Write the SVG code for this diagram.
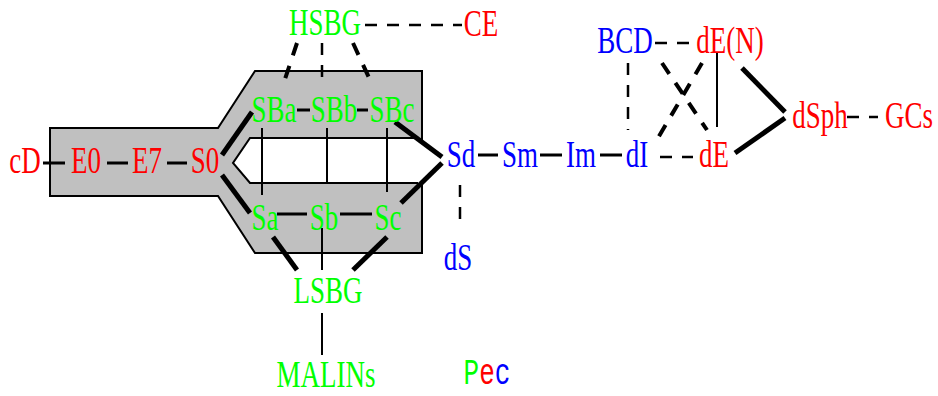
<svg xmlns="http://www.w3.org/2000/svg" width="938" height="396" viewBox="0 0 938 396">
<style>
text{font-family:"Liberation Serif","Times New Roman",serif;font-size:27px;text-anchor:middle}
.r{fill:#ff0000}.g{fill:#00ff00}.b{fill:#0000ff}
.mono{font-family:"Liberation Mono","Courier New",monospace;font-size:26px}
line,polyline{stroke:#000;fill:none}
.t{stroke-width:2}
.h{stroke-width:3}
.k{stroke-width:5}
.d{stroke-width:2.5;stroke-dasharray:12 10}
.dk{stroke-width:4;stroke-dasharray:13 11}
</style>
<rect width="938" height="396" fill="#fff"/>
<g id="body">
<polygon points="50,128 218,128 255,71 422,71 422,253 255,253 218,196 50,196" fill="#c0c0c0" stroke="#000" stroke-width="2"/>
<polygon points="250,138 417,138 442,157 442,163 417,184 250,183 233,163" fill="#fff"/>
<polyline class="t" points="417,138 250,138 233,163 250,183 418,183"/>
</g>
<g id="connectors">
<line class="h" x1="43" y1="163" x2="65" y2="163"/>
<line class="h" x1="107" y1="163" x2="128" y2="163"/>
<line class="h" x1="167" y1="163" x2="187" y2="163"/>
<line class="h" x1="297" y1="110" x2="310" y2="110"/>
<line class="h" x1="357" y1="110" x2="368" y2="110"/>
<line class="h" x1="277" y1="214" x2="307" y2="214"/>
<line class="h" x1="340" y1="214" x2="372" y2="214"/>
<line class="h" x1="478" y1="155" x2="498" y2="155"/>
<line class="h" x1="540" y1="155" x2="562" y2="155"/>
<line class="h" x1="600" y1="155" x2="622" y2="155"/>
<line class="t" x1="262" y1="128" x2="262" y2="195"/>
<line class="t" x1="327" y1="128" x2="327" y2="183"/>
<line class="t" x1="387" y1="128" x2="387" y2="192"/>
<line class="t" x1="322" y1="228" x2="322" y2="270"/>
<line class="t" x1="322" y1="313" x2="322" y2="355"/>
<line class="t" x1="717" y1="52" x2="717" y2="127"/>
<line class="k" x1="222" y1="155" x2="252" y2="112"/>
<line class="k" x1="222" y1="175" x2="250" y2="213"/>
<line class="k" x1="395" y1="122" x2="442" y2="157"/>
<line class="k" x1="401" y1="203" x2="442" y2="163"/>
<line class="k" x1="273" y1="237" x2="297" y2="270"/>
<line class="k" x1="387" y1="237" x2="353" y2="270"/>
<line class="k" x1="742" y1="68" x2="785" y2="112"/>
<line class="k" x1="735" y1="153" x2="785" y2="118"/>
<line class="d" x1="365" y1="25" x2="462" y2="25"/>
<line class="dk" x1="297" y1="43" x2="284" y2="82"/>
<line class="d" x1="322" y1="43" x2="322" y2="85"/>
<line class="dk" x1="353" y1="43" x2="371" y2="82"/>
<line class="d" x1="460" y1="185" x2="460" y2="225"/>
<line class="d" x1="655" y1="43" x2="690" y2="43"/>
<line class="d" x1="628" y1="63" x2="628" y2="130"/>
<line class="dk" x1="662" y1="63" x2="707" y2="130"/>
<line class="dk" x1="702" y1="63" x2="658" y2="138"/>
<line class="d" x1="660" y1="157" x2="693" y2="157"/>
<line class="d" x1="847" y1="117" x2="878" y2="117"/>
</g>
<g id="cD"><text class="r" transform="translate(25,173) scale(1,1.4)">cD</text></g>
<g id="E0"><text class="r" transform="translate(86,173) scale(1,1.4)">E0</text></g>
<g id="E7"><text class="r" transform="translate(147,173) scale(1,1.4)">E7</text></g>
<g id="S0"><text class="r" transform="translate(205,173) scale(1,1.4)">S0</text></g>
<g id="HSBG"><text class="g" transform="translate(325,35) scale(1,1.4)">HSBG</text></g>
<g id="CE"><text class="r" transform="translate(481,36) scale(1,1.4)">CE</text></g>
<g id="SBa"><text class="g" transform="translate(274,122) scale(1,1.4)">SBa</text></g>
<g id="SBb"><text class="g" transform="translate(334,122) scale(1,1.4)">SBb</text></g>
<g id="SBc"><text class="g" transform="translate(392,122) scale(1,1.4)">SBc</text></g>
<g id="Sa"><text class="g" transform="translate(265,230) scale(1,1.4)">Sa</text></g>
<g id="Sb"><text class="g" transform="translate(324,230) scale(1,1.4)">Sb</text></g>
<g id="Sc"><text class="g" transform="translate(388,230) scale(1,1.4)">Sc</text></g>
<g id="LSBG"><text class="g" transform="translate(328,303) scale(1,1.4)">LSBG</text></g>
<g id="MALINs"><text class="g" transform="translate(326,387) scale(1,1.4)">MALINs</text></g>
<g id="Sd"><text class="b" transform="translate(461,167) scale(1,1.4)">Sd</text></g>
<g id="Sm"><text class="b" transform="translate(520,167) scale(1,1.4)">Sm</text></g>
<g id="Im"><text class="b" transform="translate(581,167) scale(1,1.4)">Im</text></g>
<g id="dI"><text class="b" transform="translate(637,167) scale(1,1.4)">dI</text></g>
<g id="dE"><text class="r" transform="translate(714,167) scale(1,1.4)">dE</text></g>
<g id="BCD"><text class="b" transform="translate(625,53) scale(1,1.4)">BCD</text></g>
<g id="dEN"><text class="r" transform="translate(730,53) scale(1,1.4)">dE(N)</text></g>
<g id="dSph"><text class="r" transform="translate(820,128) scale(1,1.4)">dSph</text></g>
<g id="GCs"><text class="r" transform="translate(909,128) scale(1,1.4)">GCs</text></g>
<g id="dS"><text class="b" transform="translate(458,270) scale(1,1.4)">dS</text></g>
<g id="Pec"><text class="mono" transform="translate(487,384) scale(1,1.4)"><tspan class="g">P</tspan><tspan class="r">e</tspan><tspan class="b">c</tspan></text></g>
</svg>
